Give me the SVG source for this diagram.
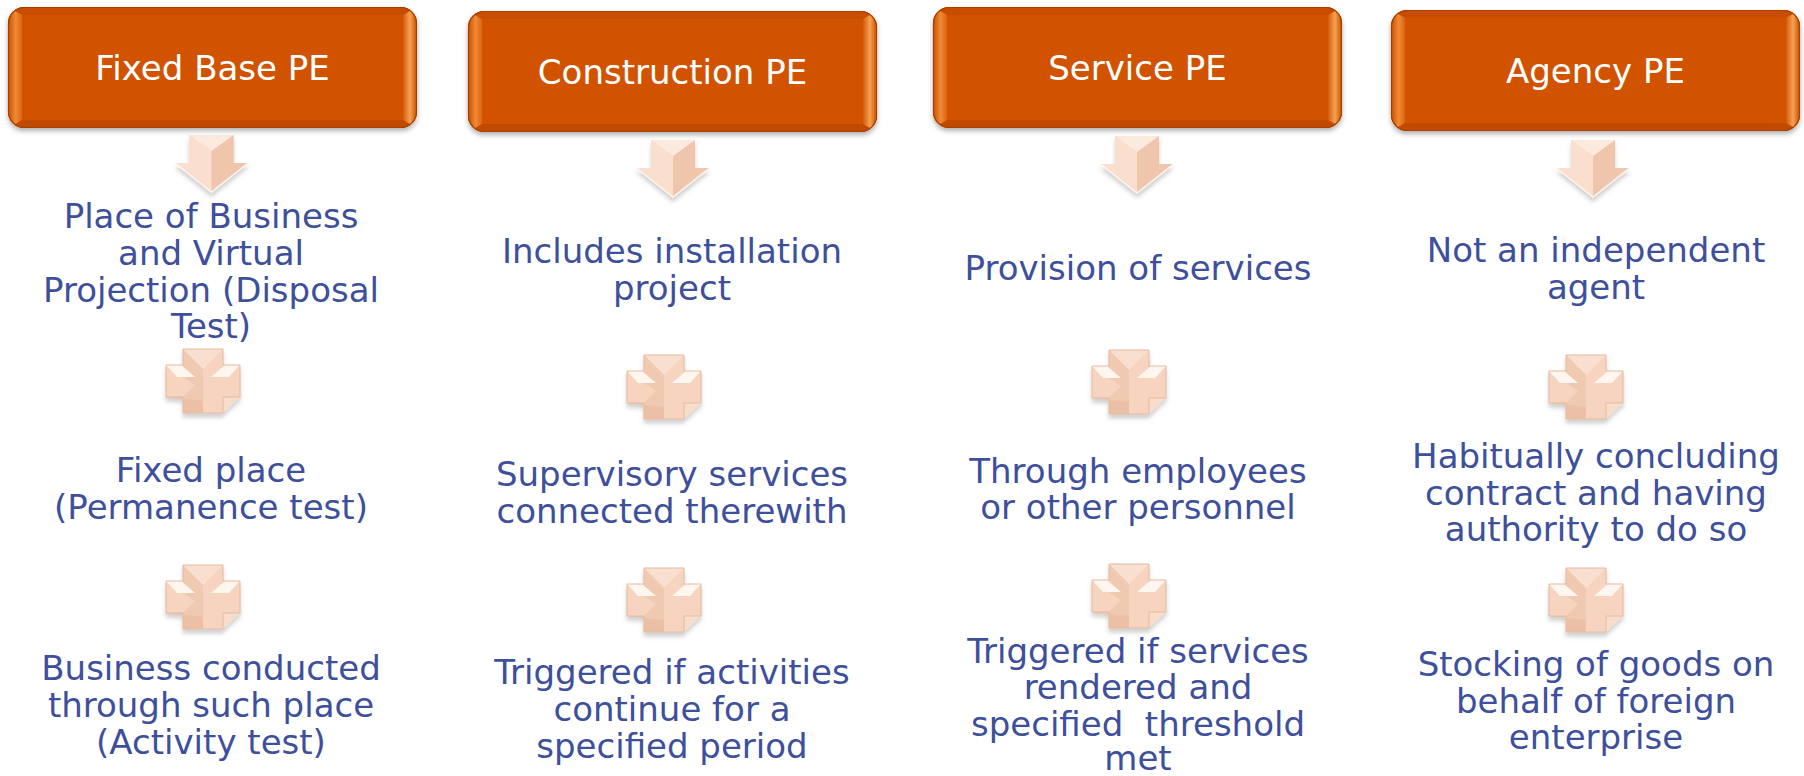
<svg xmlns="http://www.w3.org/2000/svg" xmlns:xlink="http://www.w3.org/1999/xlink" width="1804" height="776" viewBox="0 0 1804 776">
<style>
.hdr-t{font-family:"DejaVu Sans","Verdana",sans-serif;font-size:34px;fill:#ffffff;text-anchor:middle}
.body-t{font-family:"DejaVu Sans","Verdana",sans-serif;font-size:34px;fill:#3E4F9C;text-anchor:middle;white-space:pre}
</style>
<defs>
  <filter id="sh" x="-10%" y="-10%" width="120%" height="130%">
    <feDropShadow dx="0" dy="3" stdDeviation="2.5" flood-color="#000" flood-opacity="0.3"/>
  </filter>
  <filter id="sh2" x="-20%" y="-20%" width="140%" height="150%">
    <feDropShadow dx="0" dy="4" stdDeviation="2" flood-color="#666" flood-opacity="0.3"/>
  </filter>
  <clipPath id="hclip"><rect x="0" y="0" width="409" height="121" rx="16" ry="16"/></clipPath>
  <linearGradient id="lgL" x1="0" y1="0" x2="1" y2="0">
    <stop offset="0" stop-color="#C85000"/>
    <stop offset="0.55" stop-color="#F08A36"/>
    <stop offset="1" stop-color="#DC6410"/>
  </linearGradient>
  <linearGradient id="lgR" x1="0" y1="0" x2="1" y2="0">
    <stop offset="0" stop-color="#D45C0C"/>
    <stop offset="0.5" stop-color="#F7A052"/>
    <stop offset="1" stop-color="#C25000"/>
  </linearGradient>
  <g id="hdrbox">
    <g clip-path="url(#hclip)">
      <rect x="0" y="0" width="409" height="121" fill="#D15200"/>
      <polygon points="0,0 409,0 395,8 14,8" fill="#C84E00"/>
      <polygon points="0,121 409,121 395,113 14,113" fill="#C04B00"/>
      <polygon points="0,0 14,8 14,113 0,121" fill="url(#lgL)"/>
      <polygon points="409,0 395,8 395,113 409,121" fill="url(#lgR)"/>
      <rect x="14" y="8" width="381" height="105" fill="#D15200"/>
    </g>
    <rect x="0.5" y="0.5" width="408" height="120" rx="16" ry="16" fill="none" stroke="#A64000" stroke-width="1.2"/>
  </g>
  <g id="arrow">
    <polygon points="-22,0 22,0 22,28 36.5,28 0,57 -36.5,28 -22,28" fill="#F5D1BA"/>
    <polygon points="-22,0 0,16 0,57 -36.5,28 -22,28" fill="#FADFCE"/>
    <polygon points="22,0 0,16 0,57 36.5,28 22,28" fill="#EFC5AB"/>
    <polygon points="-22,0 22,0 0,16" fill="#FCEADF"/>
    <polyline points="-36.5,28 0,57 36.5,28" fill="none" stroke="#FFF5EE" stroke-width="1.5"/>
  </g>
  <g id="plus">
    <path d="M-20,-32 H20 V-16 H37 V16 H20 V32 H-20 V16 H-37 V-16 H-20 Z" fill="#F6D4BF"/>
    <polygon points="-20,-32 20,-32 0,-12" fill="#F9DFCF"/>
    <polygon points="-20,-32 0,-12 0,32 -20,32 -20,16 -8,4 -20,-4" fill="#F0C9B1"/>
    <polygon points="-37,16 -20,16 -20,32 0,32 0,20" fill="#EBC0A6"/>
    <polygon points="-37,-16 -22,-16 -8,-4 -26,-4" fill="#FFF6F0"/>
    <polygon points="37,-16 22,-16 8,-4 26,-4" fill="#FFF6F0"/>
    <polygon points="20,16 37,16 20,32" fill="#F9DDCB"/>
    <path d="M-20,-32 H20 V-16 H37 V16 H20 V32 H-20 V16 H-37 V-16 H-20 Z" fill="none" stroke="#E6BA9F" stroke-width="1"/>
  </g>
</defs>

<g id="connectors">
  <use href="#arrow" x="211.5" y="135" filter="url(#sh2)"/>
  <use href="#arrow" x="673" y="140" filter="url(#sh2)"/>
  <use href="#arrow" x="1137" y="136" filter="url(#sh2)"/>
  <use href="#arrow" x="1593" y="140" filter="url(#sh2)"/>
  <use href="#plus" x="203" y="381" filter="url(#sh2)"/>
  <use href="#plus" x="203" y="597" filter="url(#sh2)"/>
  <use href="#plus" x="664" y="387" filter="url(#sh2)"/>
  <use href="#plus" x="664" y="600" filter="url(#sh2)"/>
  <use href="#plus" x="1129" y="382" filter="url(#sh2)"/>
  <use href="#plus" x="1129" y="596" filter="url(#sh2)"/>
  <use href="#plus" x="1586" y="387" filter="url(#sh2)"/>
  <use href="#plus" x="1586" y="600" filter="url(#sh2)"/>
</g>

<g id="hdr-fixed">
  <use href="#hdrbox" x="8" y="7" filter="url(#sh)"/>
  <text class="hdr-t" x="212.5" y="80">Fixed Base PE</text>
</g>
<g id="hdr-construction">
  <use href="#hdrbox" x="468" y="11" filter="url(#sh)"/>
  <text class="hdr-t" x="672.5" y="84">Construction PE</text>
</g>
<g id="hdr-service">
  <use href="#hdrbox" x="933" y="7" filter="url(#sh)"/>
  <text class="hdr-t" x="1137.5" y="80">Service PE</text>
</g>
<g id="hdr-agency">
  <use href="#hdrbox" x="1391" y="10" filter="url(#sh)"/>
  <text class="hdr-t" x="1595.5" y="83">Agency PE</text>
</g>

<g id="fixed-1">
  <text class="body-t" x="211" y="228">Place of Business</text>
  <text class="body-t" x="211" y="265">and Virtual</text>
  <text class="body-t" x="211" y="302">Projection (Disposal</text>
  <text class="body-t" x="211" y="338">Test)</text>
</g>
<g id="fixed-2">
  <text class="body-t" x="211" y="482">Fixed place</text>
  <text class="body-t" x="211" y="519">(Permanence test)</text>
</g>
<g id="fixed-3">
  <text class="body-t" x="211" y="680">Business conducted</text>
  <text class="body-t" x="211" y="717">through such place</text>
  <text class="body-t" x="211" y="754">(Activity test)</text>
</g>

<g id="construction-1">
  <text class="body-t" x="672" y="263">Includes installation</text>
  <text class="body-t" x="672" y="300">project</text>
</g>
<g id="construction-2">
  <text class="body-t" x="672" y="486">Supervisory services</text>
  <text class="body-t" x="672" y="523">connected therewith</text>
</g>
<g id="construction-3">
  <text class="body-t" x="672" y="684">Triggered if activities</text>
  <text class="body-t" x="672" y="721">continue for a</text>
  <text class="body-t" x="672" y="758">specified period</text>
</g>

<g id="service-1">
  <text class="body-t" x="1138" y="280">Provision of services</text>
</g>
<g id="service-2">
  <text class="body-t" x="1138" y="483">Through employees</text>
  <text class="body-t" x="1138" y="519">or other personnel</text>
</g>
<g id="service-3">
  <text class="body-t" x="1138" y="663">Triggered if services</text>
  <text class="body-t" x="1138" y="699">rendered and</text>
  <text class="body-t" x="1138" y="736">specified  threshold</text>
  <text class="body-t" x="1138" y="770">met</text>
</g>

<g id="agency-1">
  <text class="body-t" x="1596" y="262">Not an independent</text>
  <text class="body-t" x="1596" y="299">agent</text>
</g>
<g id="agency-2">
  <text class="body-t" x="1596" y="468">Habitually concluding</text>
  <text class="body-t" x="1596" y="505">contract and having</text>
  <text class="body-t" x="1596" y="541">authority to do so</text>
</g>
<g id="agency-3">
  <text class="body-t" x="1596" y="676">Stocking of goods on</text>
  <text class="body-t" x="1596" y="713">behalf of foreign</text>
  <text class="body-t" x="1596" y="749">enterprise</text>
</g>
</svg>
